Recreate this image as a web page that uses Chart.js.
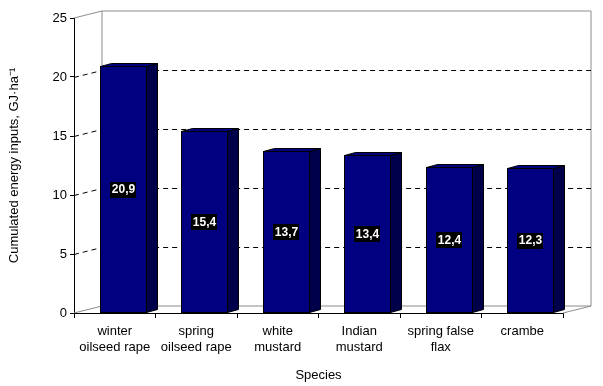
<!DOCTYPE html>
<html>
<head>
<meta charset="utf-8">
<script src="https://cdn.jsdelivr.net/npm/chart.js@4/dist/chart.umd.min.js"></script>
<style>
  html, body { margin: 0; padding: 0; background: #fff; }
  #wrap { width: 603px; height: 386px; }
</style>
</head>
<body>
<div id="wrap"><canvas id="energyChart"></canvas></div>
<script>
// chart data
const species = [
    ['winter', 'oilseed rape'],
    ['spring', 'oilseed rape'],
    ['white', 'mustard'],
    ['Indian', 'mustard'],
    ['spring false', 'flax'],
    ['crambe']
];
const energyInputs = [20.9, 15.4, 13.7, 13.4, 12.4, 12.3];
const yTicks = [0, 5, 10, 15, 20, 25];

// 3D look settings
const wallDX = 28, wallDY = -7;   // depth of the back wall
const barDX = 11, barDY = -3;     // depth of each bar
const barShift = 8;               // bars sit a little behind the front plane

Chart.defaults.font.family = "'Liberation Sans', Arial, sans-serif";
Chart.defaults.font.size = 13;
Chart.defaults.color = '#000';

// draws back wall, dashed gridlines and the 3D bars
const boxPlugin = {
    id: 'box3d',
    beforeDatasetsDraw(chart) {
        const ctx = chart.ctx;
        const area = chart.chartArea;
        const y = chart.scales.y;
        ctx.save();
        ctx.lineWidth = 1;
        // gray frame of the walls
        ctx.strokeStyle = '#8c8c8c';
        ctx.beginPath();
        ctx.moveTo(area.left, area.top);
        ctx.lineTo(area.left + wallDX, area.top + wallDY);
        ctx.lineTo(area.right + wallDX, area.top + wallDY);
        ctx.lineTo(area.right + wallDX, area.bottom + wallDY);
        ctx.lineTo(area.right, area.bottom);
        ctx.moveTo(area.left + wallDX, area.top + wallDY);
        ctx.lineTo(area.left + wallDX, area.bottom + wallDY);
        ctx.moveTo(area.left, area.bottom);
        ctx.lineTo(area.left + wallDX, area.bottom + wallDY);
        ctx.lineTo(area.right + wallDX, area.bottom + wallDY);
        ctx.stroke();
        // dashed gridlines
        ctx.strokeStyle = '#000';
        ctx.setLineDash([5, 4]);
        yTicks.forEach(v => {
            if (v === 0 || v === 25) return;
            const py = Math.round(y.getPixelForValue(v)) + 0.5;
            ctx.beginPath();
            ctx.moveTo(area.left, py);
            ctx.lineTo(area.left + wallDX, py + wallDY);
            ctx.lineTo(area.right + wallDX, py + wallDY);
            ctx.stroke();
        });
        ctx.restore();
    },
    afterDatasetsDraw(chart) {
        const ctx = chart.ctx;
        const meta = chart.getDatasetMeta(0);
        ctx.save();
        ctx.lineWidth = 1;
        ctx.strokeStyle = '#000';
        meta.data.forEach((bar, i) => {
            const p = bar.getProps(['x', 'y', 'base', 'width'], true);
            const l = Math.round(p.x - p.width / 2 + barShift) + 0.5;
            const r = Math.round(p.x + p.width / 2 + barShift) + 0.5;
            const t = Math.round(p.y) + 0.5;
            const b = Math.round(p.base) - 0.5;
            // side face
            ctx.fillStyle = '#00004a';
            ctx.beginPath();
            ctx.moveTo(r, t);
            ctx.lineTo(r + barDX, t + barDY);
            ctx.lineTo(r + barDX, b + barDY);
            ctx.lineTo(r, b);
            ctx.closePath();
            ctx.fill();
            ctx.stroke();
            // top face
            ctx.fillStyle = '#000080';
            ctx.beginPath();
            ctx.moveTo(l, t);
            ctx.lineTo(l + barDX, t + barDY);
            ctx.lineTo(r + barDX, t + barDY);
            ctx.lineTo(r, t);
            ctx.closePath();
            ctx.fill();
            ctx.stroke();
            // front face
            ctx.fillStyle = '#000080';
            ctx.fillRect(l, t, r - l, b - t);
            ctx.strokeRect(l, t, r - l, b - t);
            // value label in a black box
            const label = energyInputs[i].toFixed(1).replace('.', ',');
            ctx.font = "bold 12px 'Liberation Sans', Arial, sans-serif";
            const w = ctx.measureText(label).width + 3;
            const cx = (l + r) / 2;
            const cy = (t + b) / 2;
            ctx.fillStyle = '#000';
            ctx.fillRect(Math.round(cx - w / 2), Math.round(cy - 8), Math.round(w), 16);
            ctx.fillStyle = '#fff';
            ctx.textAlign = 'center';
            ctx.textBaseline = 'middle';
            ctx.fillText(label, cx, cy + 0.5);
        });
        ctx.restore();
    }
};

new Chart(document.getElementById('energyChart'), {
    type: 'bar',
    data: {
        labels: species,
        datasets: [{
            data: energyInputs,
            backgroundColor: 'rgba(0,0,0,0)',
            borderWidth: 0,
            barPercentage: 0.565,
            categoryPercentage: 1
        }]
    },
    options: {
        responsive: true,
        maintainAspectRatio: false,
        animation: false,
        layout: { padding: { top: 18, right: 40, left: 0, bottom: 0 } },
        plugins: {
            legend: { display: false },
            tooltip: { enabled: false }
        },
        scales: {
            x: {
                afterFit: s => { s.height = 73; },
                grid: { offset: true, drawOnChartArea: false, tickLength: 5, color: '#000' },
                border: { color: '#000' },
                ticks: { maxRotation: 0, padding: 5, font: { size: 13, lineHeight: 1.25 } },
                title: { display: true, text: 'Species', padding: { top: 0, bottom: 3 }, font: { size: 13 } }
            },
            y: {
                min: 0,
                max: 25,
                afterFit: s => { s.width = 74; },
                afterBuildTicks: s => { s.ticks = yTicks.map(v => ({ value: v })); },
                grid: { drawOnChartArea: false, tickLength: 4, color: '#000' },
                border: { color: '#000' },
                ticks: { padding: 3, font: { size: 13 } },
                title: {
                    display: true,
                    text: 'Cumulated energy inputs, GJ·ha⁻¹',
                    padding: { top: 7, bottom: 0 },
                    font: { size: 13 }
                }
            }
        }
    },
    plugins: [boxPlugin]
});
</script>
</body>
</html>
